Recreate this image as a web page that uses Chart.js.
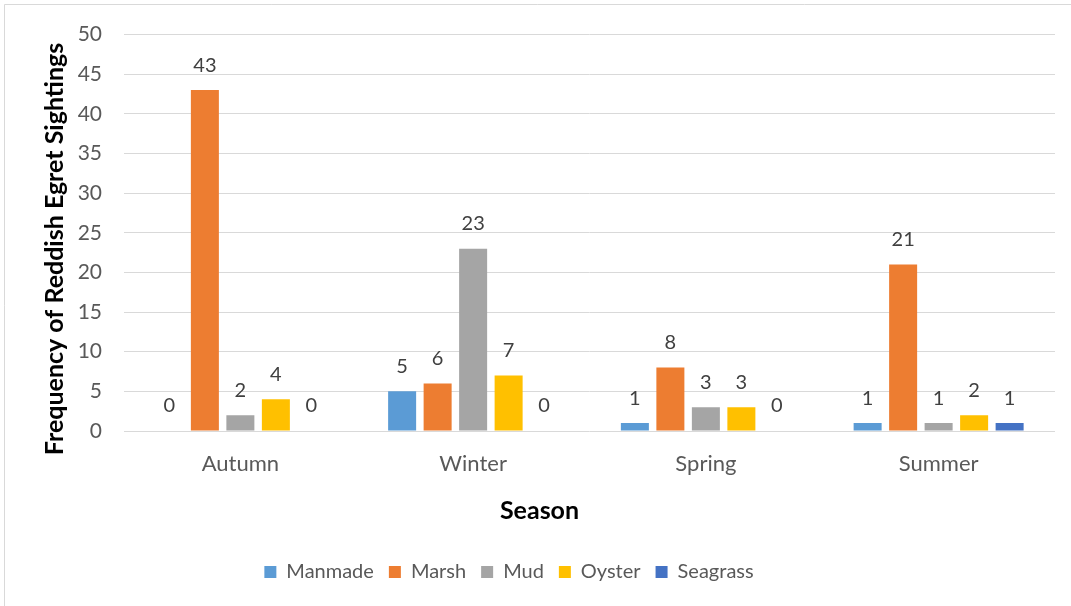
<!DOCTYPE html>
<html>
<head>
<meta charset="utf-8">
<script src="https://cdn.jsdelivr.net/npm/chart.js@4"></script>
<style>
html,body{margin:0;padding:0;background:#fff;}
#wrap{position:relative;width:1071px;height:606px;}
</style>
</head>
<body>
<div id="wrap"><canvas id="c" width="1071" height="606"></canvas></div>
<script>
const seasons = ["Autumn", "Winter", "Spring", "Summer"];
const manmade = [0, 5, 1, 1];
const marsh = [43, 6, 8, 21];
const mud = [2, 23, 3, 1];
const oyster = [4, 7, 3, 2];
const seagrass = [0, 0, 0, 1];
const seriesNames = ["Manmade", "Marsh", "Mud", "Oyster", "Seagrass"];
const seriesColors = ["#5B9BD5", "#ED7D31", "#A5A5A5", "#FFC000", "#4472C4"];
const yTitle = "Frequency of Reddish Egret Sightings";
const xTitle = "Season";

const FONT = "Lato, 'Open Sans', sans-serif";

const frame = {
  id: 'frame',
  beforeDraw(chart) {
    const ctx = chart.ctx;
    ctx.save();
    ctx.fillStyle = '#fff';
    ctx.fillRect(0, 0, chart.width, chart.height);
    ctx.strokeStyle = '#d9d9d9';
    ctx.lineWidth = 1;
    ctx.beginPath();
    ctx.moveTo(4.5, chart.height);
    ctx.lineTo(4.5, 4.5);
    ctx.lineTo(chart.width, 4.5);
    ctx.stroke();
    ctx.restore();
  }
};

const titles = {
  id: 'titles',
  afterDraw(chart) {
    const ctx = chart.ctx;
    ctx.save();
    ctx.fillStyle = '#000';
    ctx.font = "bold 25px " + FONT;
    ctx.textAlign = 'center';
    ctx.textBaseline = 'middle';
    ctx.fillText(xTitle, 539.5, 511);
    ctx.translate(55, 249);
    ctx.rotate(-Math.PI / 2);
    ctx.fillText(yTitle, 0, 0);
    ctx.restore();
  }
};

const shiftLegend = {
  id: 'shiftLegend',
  afterLayout(chart) {
    const lg = chart.legend;
    if (lg) { lg.left -= 20.5; lg.right -= 20.5; }
  }
};

const valueLabels = {
  id: 'valueLabels',
  afterDatasetsDraw(chart) {
    const ctx = chart.ctx;
    ctx.save();
    ctx.font = "20px " + FONT;
    ctx.fillStyle = '#404040';
    ctx.textAlign = 'center';
    ctx.textBaseline = 'middle';
    chart.data.datasets.forEach((ds, i) => {
      const meta = chart.getDatasetMeta(i);
      meta.data.forEach((bar, j) => {
        ctx.fillText(String(ds.data[j]), bar.x, bar.y - 25);
      });
    });
    ctx.restore();
  }
};

const allSeries = [manmade, marsh, mud, oyster, seagrass];

new Chart(document.getElementById('c'), {
  type: 'bar',
  data: {
    labels: seasons,
    datasets: seriesNames.map((n, i) => ({
      label: n,
      data: allSeries[i],
      backgroundColor: seriesColors[i],
      borderWidth: 0,
      barPercentage: 0.789,
      categoryPercentage: 0.7626
    }))
  },
  options: {
    responsive: false,
    animation: false,
    devicePixelRatio: 1,
    layout: { padding: { left: 4, right: 16, top: 32, bottom: 14 } },
    plugins: {
      tooltip: { enabled: false },
      legend: {
        position: 'bottom',
        labels: {
          boxWidth: 12, boxHeight: 12, padding: 15,
          color: '#595959',
          font: { family: FONT, size: 20 }
        }
      }
    },
    scales: {
      x: {
        grid: { display: false, drawTicks: false },
        border: { display: false },
        ticks: { color: '#595959', font: { family: FONT, size: 22 }, padding: 20 },
        title: { display: false },
        afterFit(scale) { scale.height = 116; }
      },
      y: {
        min: 0, max: 50,
        grid: { color: '#d9d9d9', lineWidth: 1, drawTicks: false },
        border: { display: false },
        ticks: { stepSize: 5, color: '#595959', font: { family: FONT, size: 21 }, padding: 22 },
        title: { display: false },
        afterFit(scale) { scale.width = 120; }
      }
    }
  },
  plugins: [frame, shiftLegend, valueLabels, titles]
});
</script>
</body>
</html>
